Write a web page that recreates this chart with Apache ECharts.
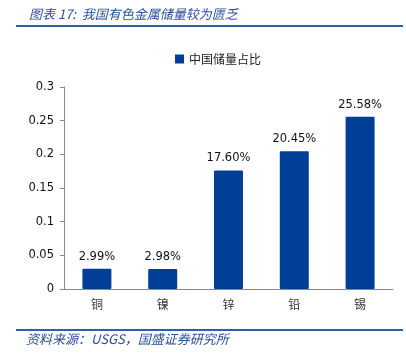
<!DOCTYPE html>
<html><head><meta charset="utf-8">
<script src="https://cdn.jsdelivr.net/npm/echarts@6/dist/echarts.min.js"></script>
<style>html,body{margin:0;padding:0;background:#fff}#c{width:406px;height:357px}</style>
</head><body><div id="c"></div>
<script>
const categories = ['铜','镍','锌','铅','锡'];
const shareValues = [0.0299, 0.0298, 0.1760, 0.2045, 0.2558];
const yTicks = [0, 0.05, 0.1, 0.15, 0.2, 0.25, 0.3];
const seriesName = '中国储量占比';
const titleText = '图表 17:  我国有色金属储量较为匮乏';
const sourceText = '资料来源：USGS，国盛证券研究所';

const chart = echarts.init(document.getElementById('c'), null, {renderer:'canvas'});
const blue = '#003E97';
chart.setOption({
  animation:false,
  title:{text:titleText,left:24,top:3,textStyle:{fontFamily:'Noto Sans CJK SC',fontStyle:'italic',fontWeight:'normal',fontSize:13,color:'#2A4E9A'}},
  legend:{data:[seriesName],top:48,left:170,itemWidth:9,itemHeight:9,itemGap:4,icon:'rect',
    textStyle:{fontFamily:'Noto Sans CJK SC',fontSize:12,color:'#222'}},
  grid:{left:64,right:13,top:87,bottom:68,containLabel:false},
  xAxis:{type:'category',data:categories,
    axisLine:{lineStyle:{color:'#888',width:1}},
    axisTick:{inside:true,length:5,lineStyle:{color:'#888'}},
    axisLabel:{fontFamily:'Noto Sans CJK SC',fontSize:12,color:'#333',margin:9}},
  yAxis:{type:'value',min:yTicks[0],max:yTicks[yTicks.length-1],interval:0.05,
    splitLine:{show:false},
    axisLine:{show:true,lineStyle:{color:'#888'}},
    axisTick:{show:true,length:4,lineStyle:{color:'#888'}},
    axisLabel:{fontFamily:'DejaVu Sans',fontSize:11.5,color:'#111',margin:10,
      formatter:v=>String(+v.toFixed(2))}},
  series:[{name:seriesName,type:'bar',data:shareValues,barWidth:29,
    itemStyle:{color:blue,borderRadius:1},
    label:{show:true,position:'top',distance:6,fontFamily:'DejaVu Sans',fontSize:11.5,color:'#111',
      formatter:p=>(p.value*100).toFixed(2)+'%'}}],
  graphic:[
    {type:'line',shape:{x1:16,y1:26,x2:403,y2:26},style:{stroke:'#2E5EAE',lineWidth:2}},
    {type:'line',shape:{x1:16,y1:330,x2:403,y2:330},style:{stroke:'#2E5EAE',lineWidth:2}},
    {type:'text',left:26,top:333,style:{text:sourceText,font:'italic 13px "Noto Sans CJK SC"',fill:'#2A4E9A'}}
  ]
});
</script></body></html>
